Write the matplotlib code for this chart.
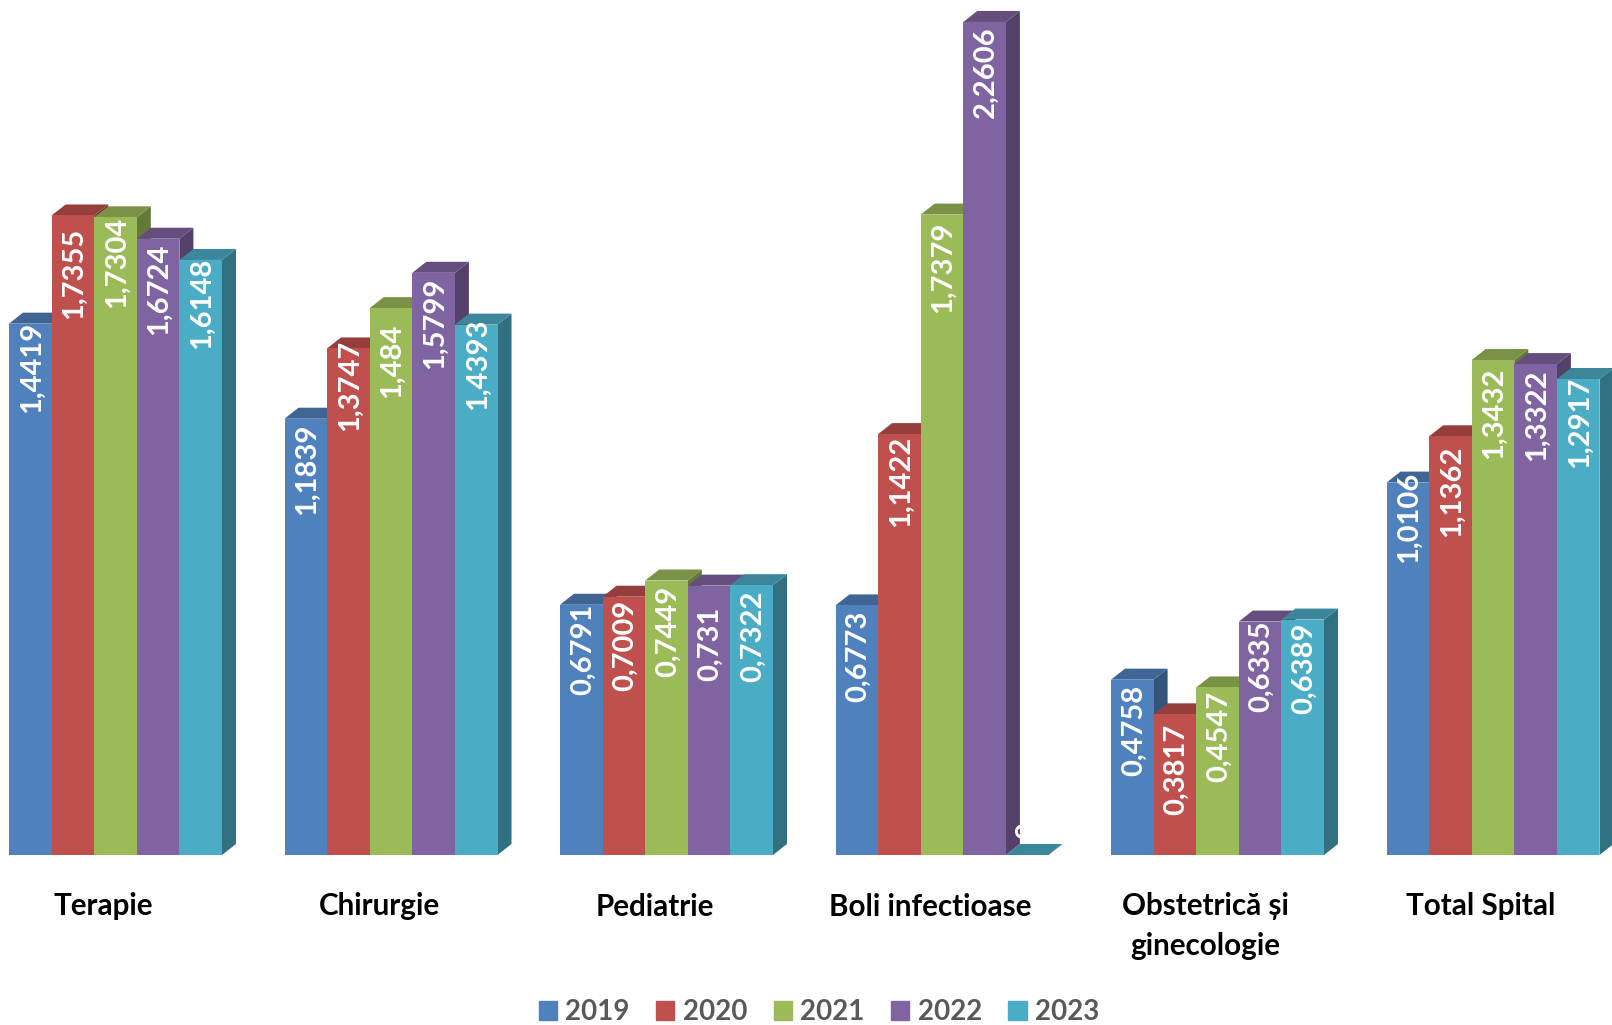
import matplotlib
matplotlib.use('Agg')
import matplotlib.pyplot as plt
from matplotlib.patches import Patch, Polygon
from matplotlib.colors import to_rgb

plt.rcParams['font.family'] = ['Lato', 'DejaVu Sans']

categories = ['Terapie', 'Chirurgie', 'Pediatrie', 'Boli infectioase',
              'Obstetrică și\nginecologie', 'Total Spital']
years = ['2019', '2020', '2021', '2022', '2023']
values_2019 = [1.4419, 1.1839, 0.6791, 0.6773, 0.4758, 1.0106]
values_2020 = [1.7355, 1.3747, 0.7009, 1.1422, 0.3817, 1.1362]
values_2021 = [1.7304, 1.484, 0.7449, 1.7379, 0.4547, 1.3432]
values_2022 = [1.6724, 1.5799, 0.731, 2.2606, 0.6335, 1.3322]
values_2023 = [1.6148, 1.4393, 0.7322, 0, 0.6389, 1.2917]
series = [values_2019, values_2020, values_2021, values_2022, values_2023]
colors = ['#4F81BD', '#C0504D', '#9BBB59', '#8064A2', '#4BACC6']

# hand moved labels in the original, pixels below the top of each bar
label_drop = [
    [-2, 5, -1, 5, 5, -11],
    [12, -9, 3, 2, 9, 9],
    [-1, 16, 5, 7, 3, 7],
    [5, 5, 21, 4, -1, 5],
    [-2, -6, 5, -33, 3, -2],
]

PX_X = 275.5  # pixels per category
PX_Y = 368.5  # pixels per unit
BASE_PX = 855
LEFT_PX = 115.5
bar_w = 42.6 / PX_X
depth_x = 14 / PX_X
depth_y = 11 / PX_Y


def shade(color, k):
    return tuple(c * k for c in to_rgb(color))


fig = plt.figure(figsize=(16.12, 10.25), dpi=100)
ax = fig.add_axes([0, (1025 - BASE_PX) / 1025, 1, BASE_PX / 1025])
ax.set_xlim(-LEFT_PX / PX_X, (1612 - LEFT_PX) / PX_X)
ax.set_ylim(0, BASE_PX / PX_Y)

z = 2
for i in range(len(categories)):
    for j, vals in enumerate(series):
        v = vals[i]
        x0 = i + (j - 2.5) * bar_w
        x1 = x0 + bar_w
        # side first, then top, then front
        ax.add_patch(Polygon([(x1, 0), (x1 + depth_x, depth_y), (x1 + depth_x, v + depth_y), (x1, v)],
                             fc=shade(colors[j], 0.65), ec='none', zorder=z))
        ax.add_patch(Polygon([(x0, v), (x0 + depth_x, v + depth_y), (x1 + depth_x, v + depth_y), (x1, v)],
                             fc=shade(colors[j], 0.78), ec='none', zorder=z))
        ax.bar(x0, v, bar_w, align='edge', color=colors[j], zorder=z)
        z += 1

for i in range(len(categories)):
    for j, vals in enumerate(series):
        ax.annotate(f'{vals[i]:.4f}'.rstrip('0').rstrip('.').replace('.', ','),
                    xy=(i + (j - 2) * bar_w, vals[i]),
                    xytext=(1, -label_drop[j][i] * 0.72), textcoords='offset points',
                    rotation=90, ha='center', va='top', color='white',
                    fontsize=21, fontweight='bold', zorder=100)

for s in ax.spines.values():
    s.set_visible(False)
ax.set_yticks([])
# category names sit a bit left of the group centre
ax.set_xticks([i - 12 / PX_X for i in range(len(categories))])
ax.set_xticklabels(categories, fontsize=21.3, fontweight='bold', color='black', linespacing=1.5)
ax.tick_params(axis='x', length=0, pad=27)

handles = [Patch(color=c, label=y) for c, y in zip(colors, years)]
fig.legend(handles=handles, loc='center', bbox_to_anchor=(819 / 1612, 1 - 1012 / 1025), ncol=5,
           frameon=False,
           prop={'size': 20, 'weight': 'bold'}, labelcolor='#595959',
           handlelength=0.66, handleheight=0.66, handletextpad=0.3, columnspacing=0.95,
           borderpad=0, borderaxespad=0)

fig.savefig('out.png', dpi=100)
